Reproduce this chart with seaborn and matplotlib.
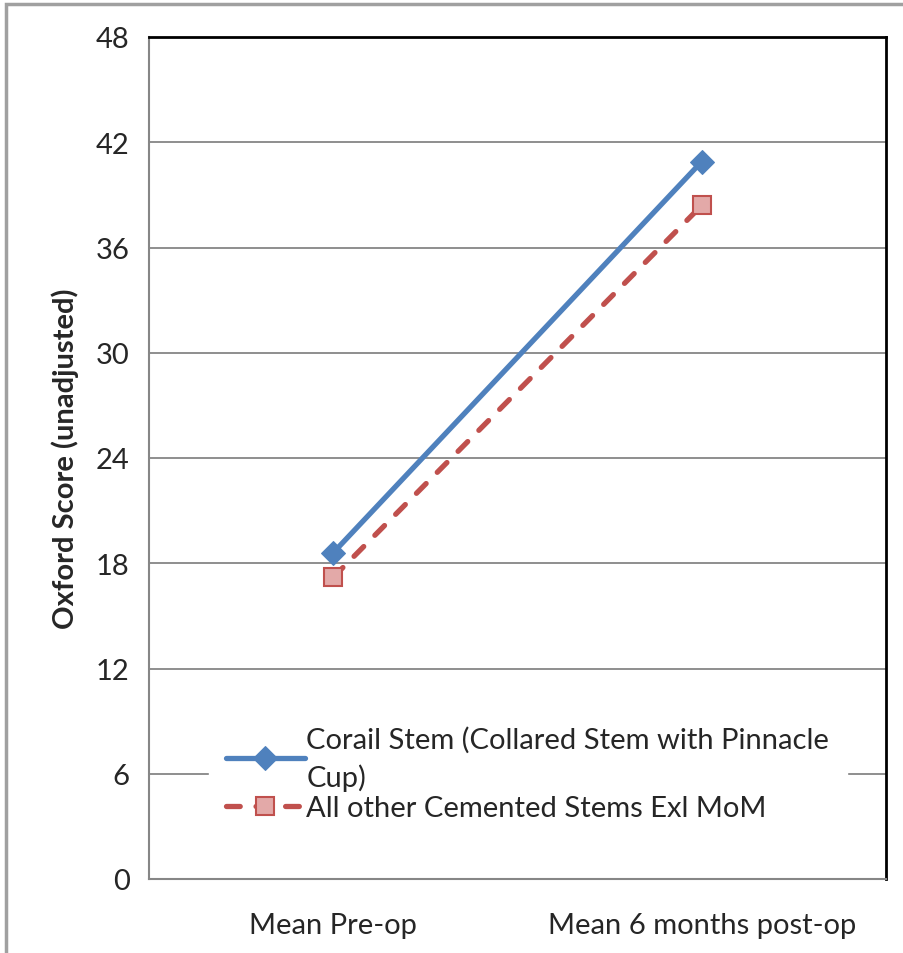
import matplotlib
matplotlib.use("Agg")
import matplotlib.pyplot as plt
import seaborn as sns
import pandas as pd
from matplotlib.patches import Rectangle

categories = ["Mean Pre-op", "Mean 6 months post-op"]
corail = [18.6, 40.9]
other = [17.2, 38.4]
series_names = ["Corail Stem (Collared Stem with Pinnacle\nCup)",
                "All other Cemented Stems Exl MoM"]
yticks = [0, 6, 12, 18, 24, 30, 36, 42, 48]

sns.set_theme(style="white")
plt.rcParams['font.family'] = ['Lato', 'DejaVu Sans']

df = pd.DataFrame({
    "pos": [0, 1, 0, 1],
    "score": corail + other,
    "series": [series_names[0]] * 2 + [series_names[1]] * 2,
})

fig = plt.figure(figsize=(9.04, 9.54), dpi=100)
ax = fig.add_axes([149/904, 1 - 880/954, (886-149)/904, (880-38)/954])

# figure border (partially cropped in reference)
fig.patches.append(Rectangle((6/904, -0.1), 2, 1.1 - 5/954, transform=fig.transFigure,
                             fill=False, edgecolor="#A0A0A0", linewidth=2.5, zorder=-5))

blue = "#4F81BD"
red = "#C0504D"

sns.lineplot(data=df[df.series == series_names[0]], x="pos", y="score", ax=ax,
             color=blue, linewidth=3.8, marker="D", markersize=12,
             markerfacecolor=blue, markeredgecolor=blue, label=series_names[0],
             zorder=4)
sns.lineplot(data=df[df.series == series_names[1]], x="pos", y="score", ax=ax,
             color=red, linewidth=3.8, marker="s", markersize=13,
             markerfacecolor="#E3A9A8", markeredgecolor=red, markeredgewidth=1.5,
             label=series_names[1], zorder=3)
ax.lines[-1].set_dashes([2.6, 3.0])
ax.lines[-1].set_dash_capstyle("round")

ax.set_xlim(-0.5, 1.5)
ax.set_ylim(0, 48)
ax.set_yticks(yticks)
ax.set_yticklabels([str(v) for v in yticks], fontsize=21)
ax.set_xticks([-0.5, 0.5, 1.5])
ax.set_xticklabels([])
ax.set_xticks([0, 1], minor=True)
ax.set_xticklabels(categories, minor=True, fontsize=21)
ax.tick_params(axis="x", which="minor", length=0, pad=24)
ax.tick_params(axis="x", which="major", length=8, width=1.3, color="#868686", direction="out")
ax.tick_params(axis="y", length=8, width=1.3, color="#868686", direction="out", pad=6)
ax.set_xlabel("")
ax.set_ylabel("Oxford Score (unadjusted)", fontsize=21, fontweight="bold", labelpad=12)

ax.yaxis.grid(True, color="#868686", linewidth=1.3)
ax.set_axisbelow(True)
for s in ["left", "bottom"]:
    ax.spines[s].set_color("#868686")
    ax.spines[s].set_linewidth(1.5)
for s in ["top", "right"]:
    ax.spines[s].set_color("black")
    ax.spines[s].set_linewidth(2)

leg = ax.legend(loc="upper left", bbox_to_anchor=(0.061, 0.22), fontsize=21,
                frameon=True, fancybox=False, framealpha=1, facecolor="white",
                edgecolor="white", handlelength=2.7, handletextpad=0.05,
                borderpad=0.6, labelspacing=0.15)
for t in leg.get_texts():
    t.set_linespacing(1.45)
leg.set_zorder(10)

fig.savefig("out.png", dpi=100)
